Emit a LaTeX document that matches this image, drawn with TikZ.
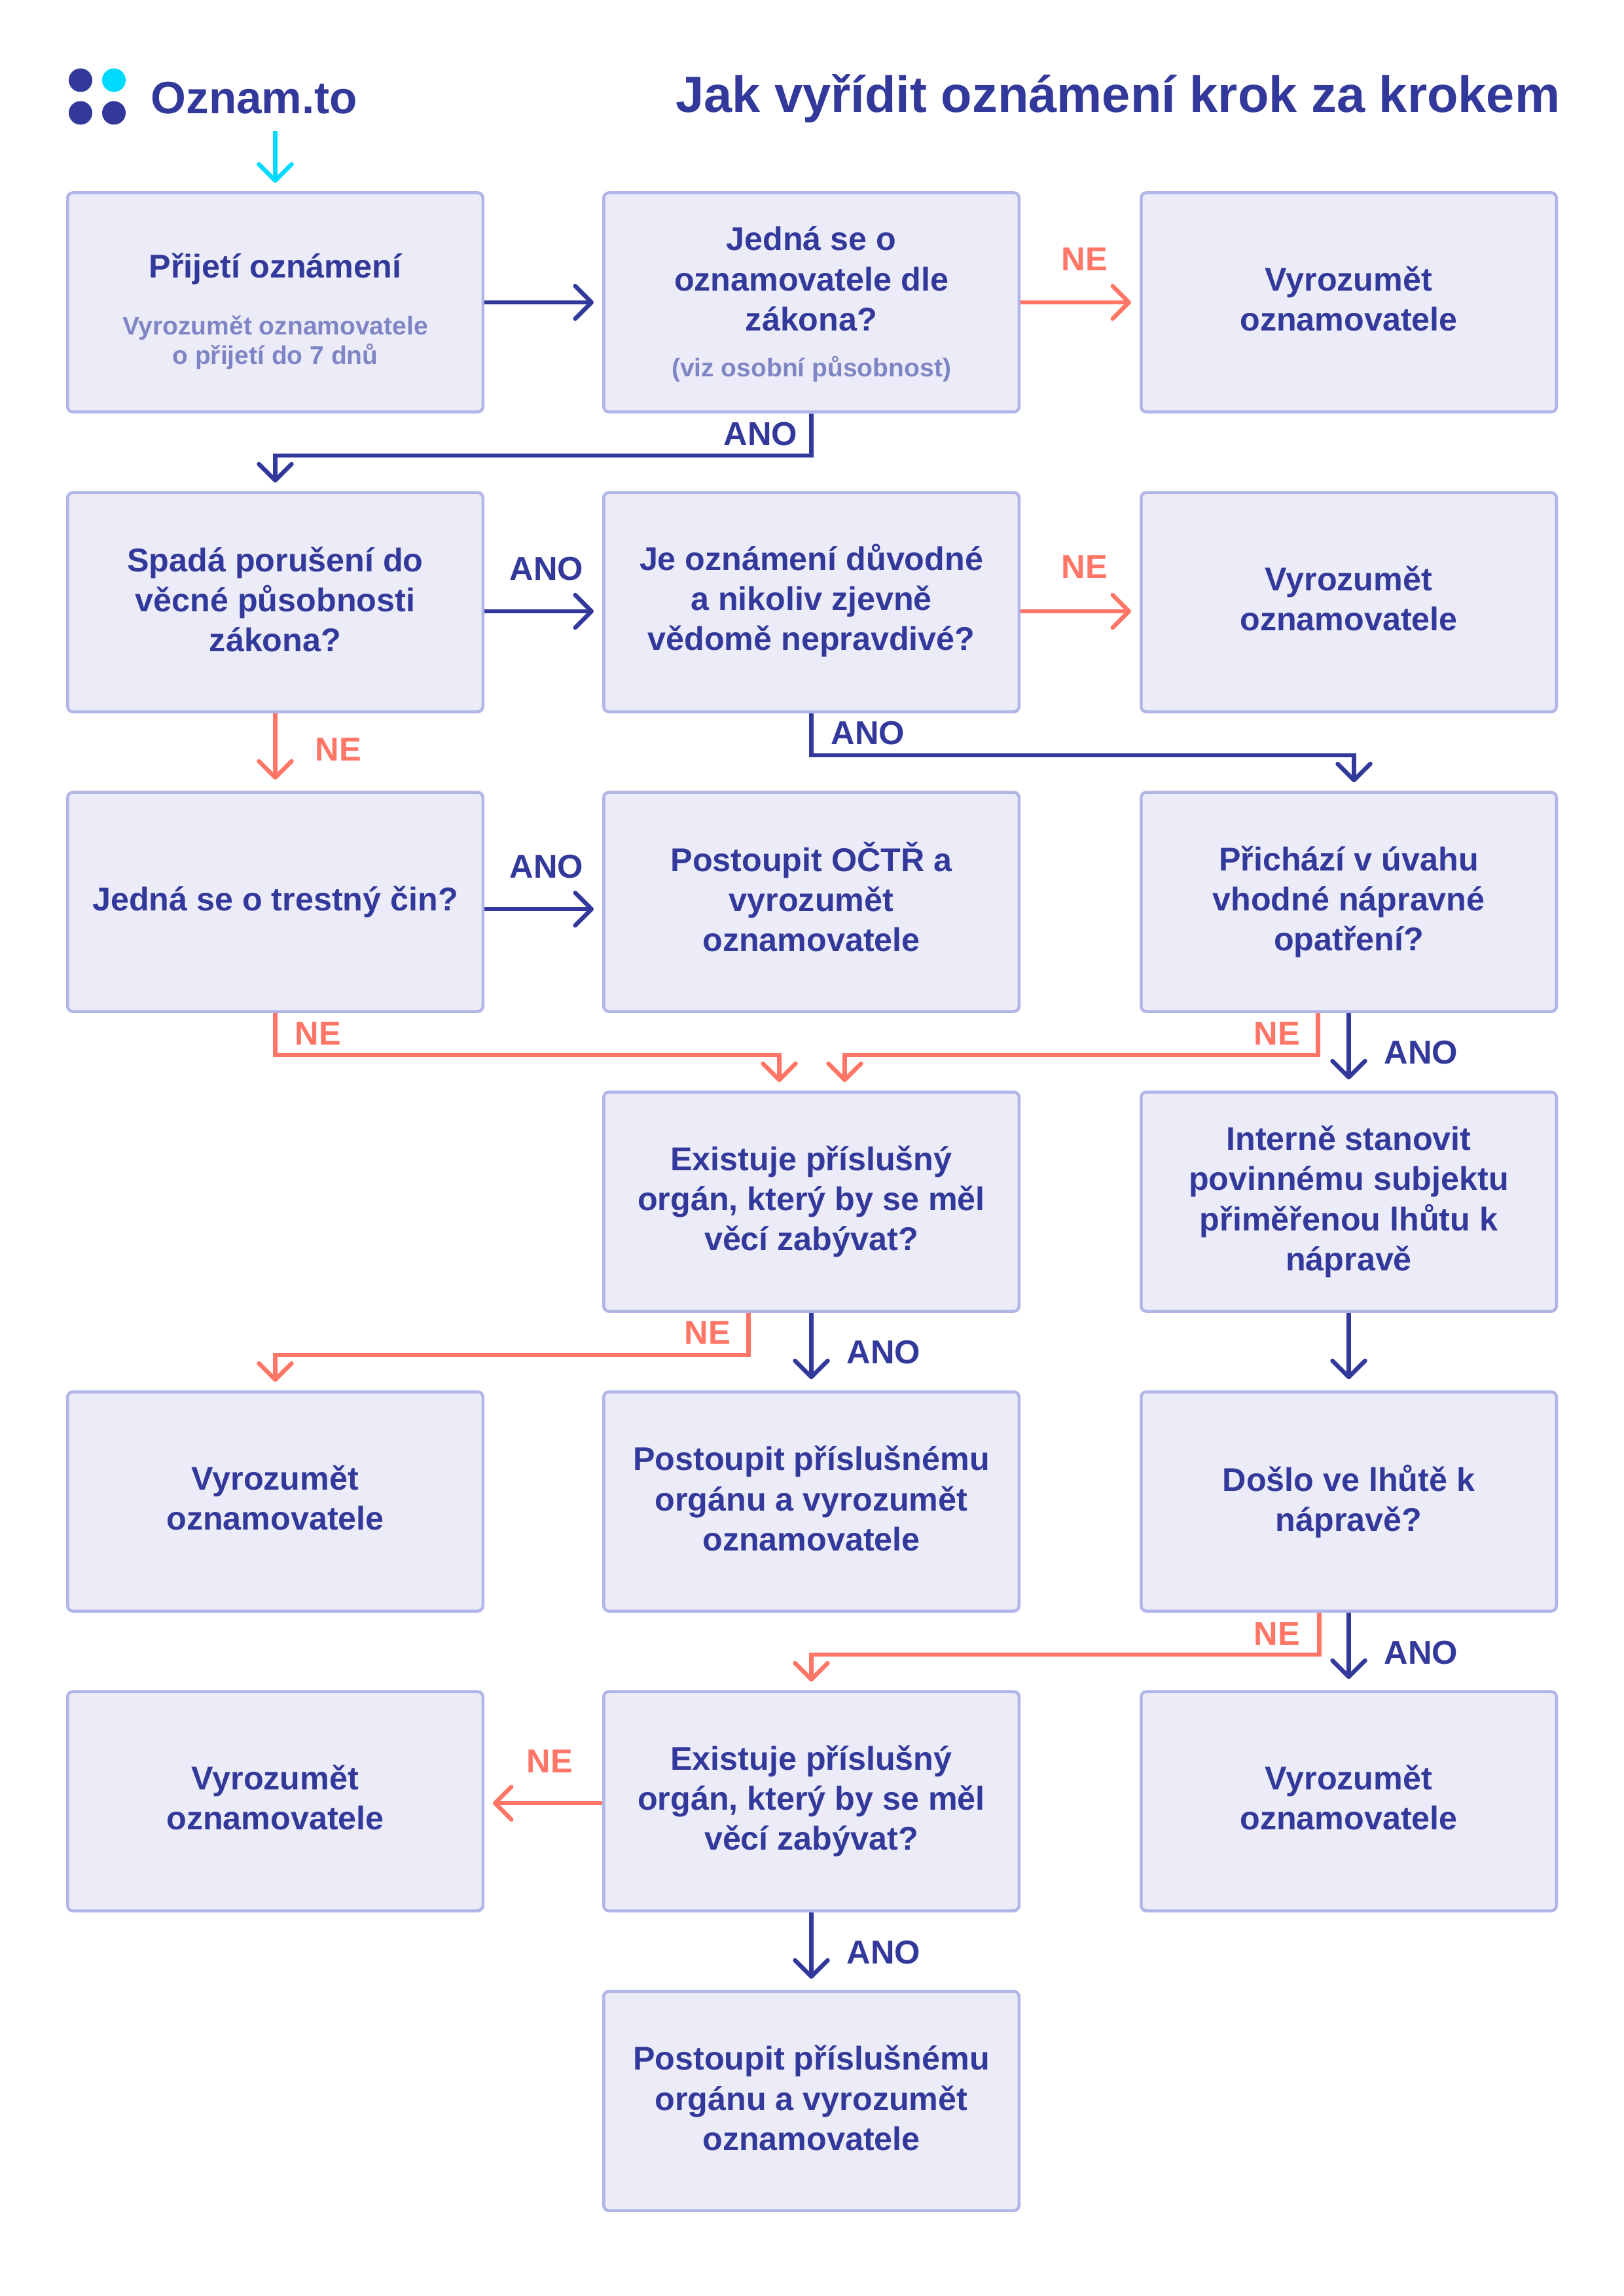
\documentclass[tikz,border=0pt]{standalone}
\usepackage{fontspec}
\setmainfont{Liberation Sans}
\usetikzlibrary{arrows.meta}
\definecolor{navy}{HTML}{33399A}
\definecolor{coral}{HTML}{FF7566}
\definecolor{azure}{HTML}{00DAFF}
\definecolor{boxfill}{HTML}{ECECF8}
\definecolor{boxline}{HTML}{B1B5E7}
\definecolor{subcol}{HTML}{7F85C4}
\newcommand{\subtxt}[1]{{\fontsize{11.1}{13}\selectfont\color{subcol}#1}}
\newcommand{\zved}[1]{\rule[-#1]{0pt}{0pt}}
\newcommand{\vyrozumet}{Vyrozumět\\oznamovatele\zved{3.2pt}}
\tikzset{
    krok/.style={draw=boxline,fill=boxfill,line width=0.045cm,rounded corners=0.08cm,
        minimum width=6.345cm,minimum height=3.35cm,align=center,text=navy,
        font=\fontsize{14.3}{17.4}\selectfont\bfseries},
    sipka/.style={line width=0.065cm,shorten >=0.13cm,
        -{Straight Barb[length=0.25cm,width=0.5cm,round]}},
    sipano/.style={sipka,draw=navy},
    sipne/.style={sipka,draw=coral},
    kratsi/.style={shorten >=0.17cm},
    txtano/.style={text=navy,font=\fontsize{14.4}{17.4}\selectfont\bfseries},
    txtne/.style={text=coral,font=\fontsize{14.4}{17.4}\selectfont\bfseries},
}
\begin{document}
\begin{tikzpicture}
        \useasboundingbox (0,0) rectangle (24.8,-35.08);
        \foreach \x/\y/\c in {1.23/-1.225/navy,1.74/-1.225/azure,1.23/-1.725/navy,1.74/-1.725/navy}
            \fill[\c] (\x,\y) circle (0.18);
        \node[anchor=base west,inner sep=0pt,text=navy,font=\fontsize{19.7}{24}\selectfont\bfseries] (znacka) at (2.3,-1.74) {Oznam.to};
        \node[anchor=base east,inner sep=0pt,text=navy,font=\fontsize{22.1}{26}\selectfont\bfseries] (nadpis) at (23.84,-1.72) {Jak vyřídit oznámení krok za krokem};
        \coordinate (start) at (4.205,-2.0);

        \node[krok] (prijeti) at (4.205,-4.62) {\rule{0pt}{18.5pt}Přijetí oznámení\\[7.1pt]\subtxt{Vyrozumět oznamovatele}\\[-4.6pt]\subtxt{o přijetí do 7 dnů}};
        \node[krok] (zakon) at (12.395,-4.62) {\rule{0pt}{12pt}Jedná se o\\oznamovatele dle\\zákona?\\[2.5pt]\subtxt{(viz osobní působnost)}};
        \node[krok] (vyroz1) at (20.605,-4.62) {\vyrozumet};
        \node[krok] (vecna) at (4.205,-9.2) {Spadá porušení do\\věcné působnosti\\zákona?\zved{2.6pt}};
        \node[krok] (duvodne) at (12.395,-9.2) {Je oznámení důvodné\\a nikoliv zjevně\\vědomě nepravdivé?\zved{4.3pt}};
        \node[krok] (vyroz2) at (20.605,-9.2) {\vyrozumet};
        \node[krok] (trestny) at (4.205,-13.78) {Jedná se o trestný čin?};
        \node[krok] (octr) at (12.395,-13.78) {Postoupit OČTŘ a\\vyrozumět\\oznamovatele\zved{4.5pt}};
        \node[krok] (vhodne) at (20.605,-13.78) {Přichází v úvahu\\vhodné nápravné\\opatření?};
        \node[krok] (organ1) at (12.395,-18.36) {Existuje příslušný\\orgán, který by se měl\\věcí zabývat?};
        \node[krok] (lhuta) at (20.605,-18.36) {Interně stanovit\\povinnému subjektu\\přiměřenou lhůtu k\\nápravě};
        \node[krok] (vyroz3) at (4.205,-22.94) {\vyrozumet};
        \node[krok] (postup1) at (12.395,-22.94) {Postoupit příslušnému\\orgánu a vyrozumět\\oznamovatele\zved{2.7pt}};
        \node[krok] (doslo) at (20.605,-22.94) {Došlo ve lhůtě k\\nápravě?};
        \node[krok] (vyroz4) at (4.205,-27.52) {\vyrozumet};
        \node[krok] (organ2) at (12.395,-27.52) {Existuje příslušný\\orgán, který by se měl\\věcí zabývat?};
        \node[krok] (vyroz5) at (20.605,-27.52) {\vyrozumet};
        \node[krok] (postup2) at (12.395,-32.10) {Postoupit příslušnému\\orgánu a vyrozumět\\oznamovatele\zved{2.7pt}};

        \draw[sipka,draw=azure] (start) -- (prijeti.north);
        \draw[sipano] (prijeti.east) -- (zakon.west);
        \draw[sipne] (zakon.east) -- (vyroz1.west);
        \draw[sipano] (zakon.south) -- ++(0,-0.64) -| (vecna.north);
        \draw[sipano] ([yshift=-0.14cm]vecna.east) -- ([yshift=-0.14cm]duvodne.west);
        \draw[sipne] ([yshift=-0.14cm]duvodne.east) -- ([yshift=-0.14cm]vyroz2.west);
        \draw[sipne,kratsi] (vecna.south) -- (trestny.north);
        \draw[sipano] (duvodne.south) -- ++(0,-0.64) -| ([xshift=0.08cm]vhodne.north);
        \draw[sipano] ([yshift=-0.11cm]trestny.east) -- ([yshift=-0.11cm]octr.west);
        \draw[sipne] (trestny.south) -- ++(0,-0.64) -| ([xshift=-0.49cm]organ1.north);
        \draw[sipne] ([xshift=-0.47cm]vhodne.south) -- ++(0,-0.64) -| ([xshift=0.51cm]organ1.north);
        \draw[sipano,kratsi] (vhodne.south) -- (lhuta.north);
        \draw[sipne] ([xshift=-0.96cm]organ1.south) -- ++(0,-0.64) -| (vyroz3.north);
        \draw[sipano,kratsi] (organ1.south) -- (postup1.north);
        \draw[sipano,kratsi] (lhuta.south) -- (doslo.north);
        \draw[sipne] ([xshift=-0.45cm]doslo.south) -- ++(0,-0.64) -| (organ2.north);
        \draw[sipano,kratsi] (doslo.south) -- (vyroz5.north);
        \draw[sipne] ([yshift=-0.03cm]organ2.west) -- ([yshift=-0.03cm]vyroz4.east);
        \draw[sipano,kratsi] (organ2.south) -- (postup2.north);

        \node[txtano] (ano1) at (11.62,-6.63) {ANO};
        \node[txtne] (ne1) at (16.57,-3.96) {NE};
        \node[txtano] (ano2) at (8.35,-8.69) {ANO};
        \node[txtne] (ne2) at (16.57,-8.66) {NE};
        \node[txtne] (ne3) at (5.17,-11.45) {NE};
        \node[txtano] (ano3) at (13.26,-11.2) {ANO};
        \node[txtano] (ano4) at (8.35,-13.24) {ANO};
        \node[txtne] (ne4) at (4.86,-15.79) {NE};
        \node[txtne] (ne5) at (19.51,-15.79) {NE};
        \node[txtano] (ano5) at (21.71,-16.08) {ANO};
        \node[txtne] (ne6) at (10.81,-20.36) {NE};
        \node[txtano] (ano6) at (13.5,-20.66) {ANO};
        \node[txtne] (ne7) at (19.51,-24.96) {NE};
        \node[txtano] (ano7) at (21.71,-25.25) {ANO};
        \node[txtne] (ne8) at (8.4,-26.91) {NE};
        \node[txtano] (ano8) at (13.5,-29.83) {ANO};
    \end{tikzpicture}
\end{document}
